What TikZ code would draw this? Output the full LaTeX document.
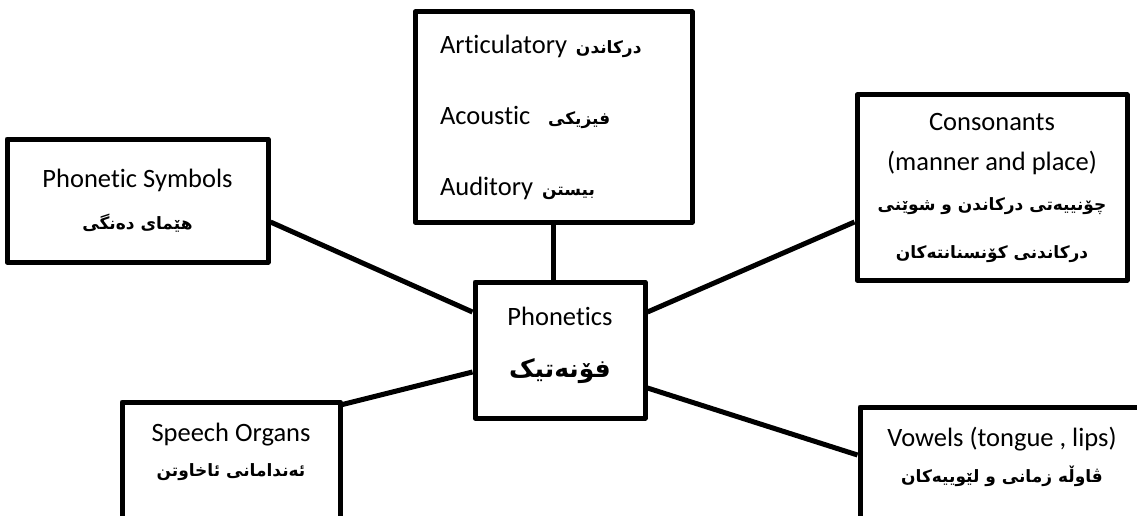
\documentclass[tikz,border=0pt]{standalone}
\usepackage{fontspec}
\setmainfont{Carlito}[Ligatures=NoCommon]
\newfontfamily\kufont[Script=Arabic]{DejaVu Sans}
\TeXXeTstate=1
\newcommand{\ku}[1]{{\kufont\bfseries\fontsize{17}{22}\selectfont\beginR #1\endR}}
\usetikzlibrary{positioning}

\tikzset{
  box/.style={draw, line width=5pt, line join=round, align=center, inner sep=0pt,
    font=\fontsize{26.5}{32}\selectfont},
  link/.style={line width=5pt},
}

\begin{document}
\begin{tikzpicture}[x=1pt,y=-1pt]
\useasboundingbox (0,0) rectangle (1137,516);

\node[box, minimum width=277pt, minimum height=210pt, text width=227pt, align=left] (branch) at (553.5,117)
  {Articulatory \ku{درکاندن}\\[39pt] Acoustic \ \ku{فیزیکی}\\[39pt] Auditory \ku{بیستن}};

\node[box, minimum width=261pt, minimum height=123pt] (sym) at (137.5,200.5)
  {Phonetic Symbols\\[10pt] \ku{هێمای دەنگی}};

\node[box, minimum width=270pt, minimum height=185pt] (cons) at (992,187.5)
  {Consonants\\[8pt] (manner and place)\\[8pt] \ku{چۆنییەتی درکاندن و شوێنی}\\[16pt] \ku{درکاندنی کۆنسنانتەکان}};

\node[box, minimum width=170pt, minimum height=136pt] (phon) at (560,350)
  {Phonetics\\[20pt] {\kufont\bfseries\fontsize{25}{30}\selectfont\beginR فۆنەتیک\endR}\\[-16pt] ~};

\node[box, minimum width=218pt, minimum height=136pt] (organs) at (231,470)
  {Speech Organs\\[3pt] \ku{ئەندامانی ئاخاوتن}\\[9pt] ~};

\node[box, minimum width=284pt, minimum height=136pt] (vowels) at (1002,475)
  {Vowels (tongue , lips)\\[4pt] \ku{ڤاوڵە زمانی و لێوییەکان}\\[9pt] ~};

\draw[link] (branch.south) -- (branch.south |- phon.north);
\draw[link] ([yshift=-21.5pt]sym.east) -- ([yshift=38pt]phon.west);
\draw[link] ([yshift=38pt]phon.east) -- ([yshift=-34.5pt]cons.west);
\draw[link] ([yshift=-5pt]organs.north east) -- ([yshift=-22pt]phon.west);
\draw[link] ([yshift=-38pt]phon.east) -- ([yshift=20pt]vowels.west);
\end{tikzpicture}
\end{document}
